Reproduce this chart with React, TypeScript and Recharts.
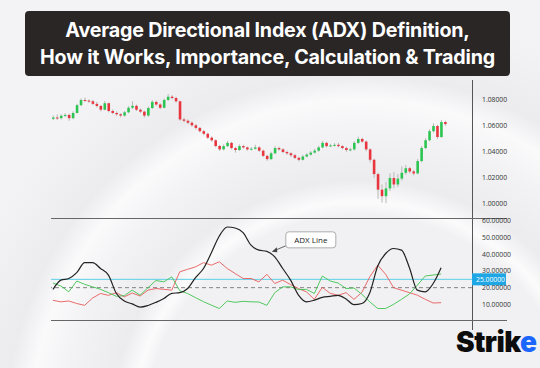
import React from 'react';
import { ComposedChart, LineChart, Bar, Line, XAxis, YAxis, ReferenceLine, ReferenceDot } from 'recharts';

// price candles (EUR/USD style)
const FIRST_OPEN = 1.0655;
const closes = [
  1.0665, 1.066, 1.0678, 1.0685, 1.066, 1.07, 1.076, 1.08, 1.0795, 1.079,
  1.077, 1.0754, 1.0725, 1.0775, 1.0715, 1.07, 1.069, 1.068, 1.0705, 1.074,
  1.0755, 1.0725, 1.071, 1.068, 1.0738, 1.0785, 1.0765, 1.074, 1.08, 1.0825,
  1.0815, 1.079, 1.065, 1.064, 1.0625, 1.0605, 1.0585, 1.056, 1.054, 1.051,
  1.049, 1.0446, 1.042, 1.0445, 1.047, 1.043, 1.0415, 1.0445, 1.0435, 1.042,
  1.0425, 1.0435, 1.041, 1.037, 1.0345, 1.039, 1.043, 1.042, 1.04, 1.039,
  1.0375, 1.0355, 1.034, 1.0365, 1.038, 1.0395, 1.041, 1.0435, 1.047, 1.0445,
  1.045, 1.0455, 1.0445, 1.043, 1.0415, 1.042, 1.047, 1.05, 1.048, 1.042,
  1.034, 1.023, 1.011, 1.006, 1.012, 1.02, 1.015, 1.0195, 1.024, 1.0275,
  1.025, 1.0235, 1.033, 1.043, 1.049, 1.056, 1.06, 1.0515, 1.063, 1.0615,
];
const highs = [
  1.068, 1.069, 1.0692, 1.0698, 1.0695, 1.0712, 1.077, 1.0812, 1.0818, 1.0805,
  1.08, 1.0785, 1.0762, 1.0792, 1.078, 1.0728, 1.0712, 1.0698, 1.0715, 1.0752,
  1.079, 1.0765, 1.0735, 1.0718, 1.075, 1.0798, 1.0795, 1.0775, 1.0812, 1.0845,
  1.0838, 1.0825, 1.0795, 1.0662, 1.065, 1.0635, 1.0615, 1.0592, 1.057, 1.0548,
  1.052, 1.0498, 1.0455, 1.0458, 1.0485, 1.0478, 1.044, 1.0458, 1.0455, 1.0442,
  1.0438, 1.0455, 1.0445, 1.0418, 1.0378, 1.0402, 1.0445, 1.044, 1.0428, 1.041,
  1.0398, 1.0385, 1.0362, 1.0378, 1.0392, 1.0408, 1.0425, 1.0448, 1.0485, 1.0478,
  1.0462, 1.0468, 1.047, 1.0452, 1.044, 1.0432, 1.0482, 1.0518, 1.051, 1.0488,
  1.0428, 1.0348, 1.024, 1.015, 1.017, 1.0235, 1.0245, 1.023, 1.029, 1.03,
  1.0285, 1.0262, 1.0345, 1.0445, 1.0505, 1.0575, 1.062, 1.061, 1.0645, 1.064,
];
const lows = [
  1.0645, 1.0648, 1.065, 1.0668, 1.064, 1.0652, 1.0695, 1.0752, 1.0785, 1.0778,
  1.076, 1.0742, 1.0712, 1.072, 1.0705, 1.069, 1.0678, 1.0668, 1.0672, 1.0698,
  1.073, 1.0715, 1.07, 1.0665, 1.0672, 1.073, 1.0755, 1.073, 1.0735, 1.0792,
  1.0805, 1.078, 1.064, 1.0628, 1.0612, 1.0595, 1.0572, 1.055, 1.0528, 1.05,
  1.0478, 1.0435, 1.0408, 1.0412, 1.0438, 1.042, 1.0395, 1.0408, 1.0425, 1.041,
  1.0412, 1.0418, 1.04, 1.036, 1.0332, 1.0338, 1.0382, 1.041, 1.039, 1.0378,
  1.0362, 1.0345, 1.0328, 1.0335, 1.0358, 1.0372, 1.0388, 1.0402, 1.0428, 1.0435,
  1.0438, 1.0442, 1.0435, 1.042, 1.0402, 1.0405, 1.0412, 1.0462, 1.047, 1.0405,
  1.032, 1.02, 1.004, 1.001, 1.0005, 1.01, 1.012, 1.013, 1.018, 1.0225,
  1.0235, 1.022, 1.0228, 1.032, 1.0422, 1.0482, 1.055, 1.05, 1.0508, 1.06,
];
const priceTicks = [1.0, 1.02, 1.04, 1.06, 1.08];

// ADX panel, one value every second candle
const adxLine = [
  19, 24.5, 25.5, 29, 35, 35, 31.5, 27.5, 16.5, 12,
  10.3, 8.3, 9.3, 11.2, 13.5, 16.6, 17, 19.5, 26, 31.5,
  41, 51, 56.4, 55.8, 53, 45.5, 42.5, 41.8, 38.5, 31.5,
  24.5, 15.5, 11.5, 12.5, 14.2, 14.8, 15.4, 13.2, 9.8, 10.5,
  17, 33, 40.5, 43.5, 42.5, 32, 18.5, 17.5, 22.5, 32,
];
const minusDI = [
  12.4, 11.5, 12, 10.5, 9.4, 13.8, 16.5, 15.4, 17, 14.5,
  16.8, 15, 18.5, 19.5, 19, 18.5, 29.5, 31, 32.5, 35,
  33.5, 35.5, 31.5, 28.5, 25.5, 25.5, 23.5, 28, 22.5, 24.5,
  21.8, 19.5, 17.5, 13, 20.2, 16.6, 15.4, 17, 13, 17.2,
  26.5, 33.5, 28, 20, 18.5, 17, 15.5, 13, 10.8, 11,
];
const plusDI = [
  22.8, 21, 17.5, 24, 22, 20.5, 19, 17, 14.8, 15.2,
  18.5, 15.5, 20, 24.3, 23.5, 26.5, 18.2, 16.5, 14, 11.6,
  9.5, 7.5, 12, 11.2, 11.8, 11.5, 11.4, 9.4, 17, 20.5,
  20.5, 18.8, 19, 16.5, 27, 24, 22.8, 19.5, 19.8, 16,
  11.5, 7.5, 7.5, 10, 13, 16.2, 21.5, 27, 27.6, 28.2,
];
const adxTicks = [10, 20, 30, 40, 50, 60];

const candles = closes.map((c, i) => ({
  i,
  open: i === 0 ? FIRST_OPEN : closes[i - 1],
  close: c,
  high: highs[i],
  low: lows[i],
}));

const adxData = adxLine.map((v, k) => ({ i: k * 2, adx: v, minus: minusDI[k], plus: plusDI[k] }));

const X_DOMAIN = [-0.5, 105.8];
const tickStyle = { fontSize: 6.8, fill: '#333', fontFamily: 'Open Sans' };

const Candle = (props: any) => {
  const { x, y, width, height, payload } = props;
  const { open, close, high, low } = payload;
  const top = Math.min(y, y + height);
  const h = Math.abs(height);
  const k = h / (high - low || 1);
  const bodyTop = top + (high - Math.max(open, close)) * k;
  const bodyH = Math.max(1, Math.abs(open - close) * k);
  const cx = x + width / 2;
  return (
    <g>
      <line x1={cx} x2={cx} y1={top} y2={top + h} stroke="#a8a8a8" strokeWidth={0.8} />
      <rect x={x} y={bodyTop} width={width} height={bodyH} fill={close >= open ? '#2cc552' : '#e8363f'} />
    </g>
  );
};

const LevelTag = (props: any) => {
  const { viewBox } = props;
  const x = viewBox.x + viewBox.width;
  const y = viewBox.y;
  return (
    <g>
      <rect x={x} y={y - 6} width={34} height={12} fill="#1ea7e4" />
      <text x={x + 4} y={y + 2.5} fontSize={6.8} fill="#fff" fontFamily="Open Sans">25.00000</text>
    </g>
  );
};

const Callout = (props: any) => {
  const { cx, cy } = props;
  return (
    <g>
      <line x1={cx + 15} y1={cy - 6} x2={cx + 3} y2={cy - 1} stroke="#555" strokeWidth={0.9} />
      <path d={`M ${cx + 1} ${cy} L ${cx + 6} ${cy - 4.5} L ${cx + 6.5} ${cy + 0.5} Z`} fill="#444" />
      <rect x={cx + 15} y={cy - 20} width={50} height={16} rx={3} fill="#fff" stroke="#9a9a9a" strokeWidth={0.8} />
      <text x={cx + 40} y={cy - 9} fontSize={8} fill="#222" textAnchor="middle" fontFamily="Open Sans">ADX Line</text>
    </g>
  );
};

export default function App() {
  return (
    <div
      style={{
        position: 'absolute',
        left: 0,
        top: 0,
        width: 540,
        height: 368,
        overflow: 'hidden',
        background:
          'radial-gradient(circle at 360px 430px, #f1f1f3 0px, #f1f1f3 215px, #fbfbfc 228px, #ececef 250px, #f3f3f5 300px, #fafafb 330px, #ececef 355px, #f3f3f5 420px)',
        fontFamily: 'Open Sans',
      }}
    >
      <div
        style={{
          position: 'absolute',
          left: 25,
          top: 11,
          width: 485,
          height: 65,
          background: '#2a2626',
          borderRadius: 4,
          color: '#fff',
          fontFamily: 'Inter',
          fontWeight: 700,
          fontSize: 19.7,
          lineHeight: '27px',
          textAlign: 'center',
          paddingTop: 6,
          boxSizing: 'border-box',
          letterSpacing: -0.2,
          whiteSpace: 'nowrap',
        }}
      >
        <div>Average Directional Index (ADX) Definition,</div>
        <div>How it Works, Importance, Calculation &amp; Trading</div>
      </div>

      <svg style={{ position: 'absolute', left: 0, top: 0 }} width={540} height={368}>
        <line x1={472.5} x2={472.5} y1={80} y2={330} stroke="#555" strokeWidth={1} />
        <line x1={51} x2={507} y1={218.5} y2={218.5} stroke="#666" strokeWidth={1} />
        <line x1={51} x2={507} y1={320.5} y2={320.5} stroke="#666" strokeWidth={1} />
      </svg>

      <div style={{ position: 'absolute', left: 0, top: 80 }}>
        <ComposedChart width={540} height={140} data={candles} margin={{ top: 8, right: 0, bottom: 6, left: 51 }}>
          <XAxis dataKey="i" type="number" domain={X_DOMAIN} hide />
          <YAxis
            orientation="right"
            width={68}
            domain={[0.9923, 1.0892]}
            ticks={priceTicks}
            tickFormatter={(v: number) => v.toFixed(5)}
            tick={tickStyle}
            axisLine={false}
            tickLine={false}
            tickMargin={4}
            allowDataOverflow
          />
          <Bar dataKey={(d: any) => [d.low, d.high]} barSize={2.6} shape={<Candle />} isAnimationActive={false} />
        </ComposedChart>
      </div>

      <div style={{ position: 'absolute', left: 0, top: 211 }}>
        <LineChart width={540} height={118} data={adxData} margin={{ top: 10, right: 0, bottom: 8, left: 51 }}>
          <XAxis dataKey="i" type="number" domain={X_DOMAIN} hide />
          <YAxis
            orientation="right"
            width={68}
            domain={[0, 60]}
            ticks={adxTicks}
            tickFormatter={(v: number) => v.toFixed(5)}
            tick={tickStyle}
            axisLine={false}
            tickLine={false}
            tickMargin={4}
          />
          <ReferenceLine y={25} stroke="#5ccfe6" strokeWidth={1} label={<LevelTag />} />
          <ReferenceLine y={20} stroke="#777" strokeDasharray="4 3" strokeWidth={0.9} />
          <Line dataKey="minus" stroke="#e85a5a" strokeWidth={0.9} dot={false} isAnimationActive={false} />
          <Line dataKey="plus" stroke="#3ec44f" strokeWidth={0.9} dot={false} isAnimationActive={false} />
          <Line type="monotone" dataKey="adx" stroke="#222" strokeWidth={1.2} dot={false} isAnimationActive={false} />
          <ReferenceDot x={55} y={41.5} r={0} shape={<Callout />} />
        </LineChart>
      </div>

      <div
        style={{
          position: 'absolute',
          left: 456,
          top: 325,
          fontFamily: 'Inter',
          fontWeight: 900,
          fontSize: 28,
          letterSpacing: -0.5,
          color: '#0c0c0c',
          whiteSpace: 'nowrap',
        }}
      >
        Strik<span style={{ color: '#1a66ff' }}>e</span>
      </div>
    </div>
  );
}
